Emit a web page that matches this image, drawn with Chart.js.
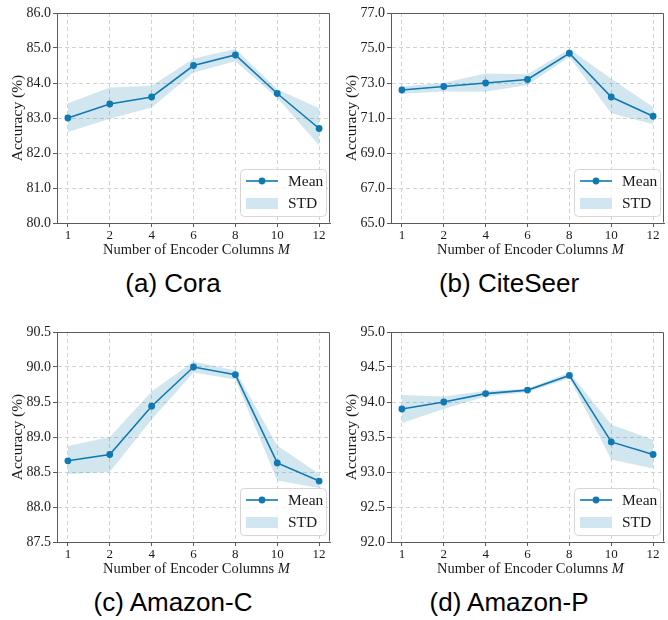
<!DOCTYPE html>
<html>
<head>
<meta charset="utf-8">
<script src="https://cdn.jsdelivr.net/npm/chart.js@4"></script>
<style>
  html, body { margin: 0; padding: 0; background: #fff; }
  #wrap { position: relative; width: 668px; height: 620px; overflow: hidden; }
  .panel { position: absolute; width: 334px; height: 260px; }
  .cap { position: absolute; font-family: "Liberation Sans", Arial, sans-serif; font-size: 26px; color: #000;
         transform: translate(-50%, -50%); white-space: nowrap; }
</style>
</head>
<body>
<div id="wrap">
  <div class="panel" style="left:0;top:0"><canvas id="c0"></canvas></div>
  <div class="panel" style="left:334px;top:0"><canvas id="c1"></canvas></div>
  <div class="panel" style="left:0;top:319px"><canvas id="c2"></canvas></div>
  <div class="panel" style="left:334px;top:319px"><canvas id="c3"></canvas></div>
  <div class="cap" style="left:173px;top:283px">(a) Cora</div>
  <div class="cap" style="left:509px;top:283px">(b) CiteSeer</div>
  <div class="cap" style="left:173px;top:602px">(c) Amazon-C</div>
  <div class="cap" style="left:509px;top:602px">(d) Amazon-P</div>
</div>
<script>
// ---- data ----
const categories = ['1', '2', '4', '6', '8', '10', '12'];

const coraMean  = [83.0, 83.4, 83.6, 84.5, 84.8, 83.7, 82.7];
const coraUpper = [83.42, 83.87, 83.92, 84.7, 84.97, 83.82, 83.28];
const coraLower = [82.6, 82.98, 83.3, 84.3, 84.62, 83.58, 82.22];
const coraTicks = [80, 86, 1];

const citeMean  = [72.6, 72.8, 73.0, 73.2, 74.7, 72.2, 71.1];
const citeUpper = [72.8, 73.02, 73.55, 73.5, 74.95, 73.25, 71.62];
const citeLower = [72.38, 72.52, 72.5, 72.88, 74.48, 71.27, 70.64];
const citeTicks = [65, 77, 2];

const amcMean  = [88.66, 88.75, 89.44, 90.0, 89.89, 88.63, 88.37];
const amcUpper = [88.87, 89.0, 89.65, 90.08, 89.95, 88.88, 88.47];
const amcLower = [88.47, 88.5, 89.25, 89.92, 89.82, 88.38, 88.27];
const amcTicks = [87.5, 90.5, 0.5];

const ampMean  = [93.9, 94.0, 94.12, 94.17, 94.38, 93.43, 93.25];
const ampUpper = [94.1, 94.08, 94.16, 94.19, 94.42, 93.68, 93.46];
const ampLower = [93.7, 93.9, 94.08, 94.14, 94.34, 93.18, 93.05];
const ampTicks = [92, 95, 0.5];

const yTitle = 'Accuracy (%)';
const xTitleMain = 'Number of Encoder Columns ';
const xTitleVar = 'M';
const legendLabels = ['Mean', 'STD'];

// ---- style ----
const LINE = '#1079b0';
const BAND = 'rgba(16,121,176,0.19)';
const BAND_SOLID = '#d2e6f1';
const GRID = '#d2d2d2';
const SPINE = '#5a5a5a';
const SERIF = '"Liberation Serif", "Times New Roman", "DejaVu Serif", serif';

const pts = arr => arr.map((v, i) => ({ x: i, y: v }));

const framePlugin = {
  id: 'frame',
  afterDatasetsDraw(chart) {
    const { ctx, chartArea: a } = chart;
    ctx.save();
    ctx.strokeStyle = SPINE;
    ctx.lineWidth = 1;
    ctx.beginPath();
    const l = Math.round(a.left) + 0.5, r = Math.round(a.right) - 0.5;
    const t = Math.round(a.top) + 0.5, b = Math.round(a.bottom) - 0.5;
    ctx.moveTo(l, t); ctx.lineTo(r, t); ctx.lineTo(r, b);
    ctx.stroke();
    ctx.restore();
  }
};

const xTitlePlugin = {
  id: 'xtitle',
  afterDraw(chart) {
    const { ctx, chartArea: a } = chart;
    ctx.save();
    ctx.fillStyle = '#1a1a1a';
    ctx.textBaseline = 'middle';
    ctx.textAlign = 'left';
    const f1 = '14.5px ' + SERIF, f2 = 'italic 14.5px ' + SERIF;
    ctx.font = f1; const w1 = ctx.measureText(xTitleMain).width;
    ctx.font = f2; const w2 = ctx.measureText(xTitleVar).width;
    const x0 = (a.left + a.right) / 2 - (w1 + w2) / 2 + 3;
    const y = a.bottom + 27;
    ctx.font = f1; ctx.fillText(xTitleMain, x0, y);
    ctx.font = f2; ctx.fillText(xTitleVar, x0 + w1, y);
    ctx.restore();
  }
};

const legendPlugin = {
  id: 'boxlegend',
  afterDraw(chart) {
    const { ctx, chartArea: a } = chart;
    const w = 86, h = 47;
    const x0 = a.right - 4 - w, y0 = a.bottom - 7 - h;
    ctx.save();
    ctx.beginPath();
    ctx.roundRect(x0 + 0.5, y0 + 0.5, w, h, 4);
    ctx.fillStyle = 'rgba(255,255,255,0.8)';
    ctx.fill();
    ctx.strokeStyle = '#d6d6d6';
    ctx.lineWidth = 1;
    ctx.stroke();
    // mean
    const ym = y0 + 12;
    ctx.strokeStyle = LINE; ctx.lineWidth = 1.6;
    ctx.beginPath(); ctx.moveTo(x0 + 6, ym); ctx.lineTo(x0 + 38, ym); ctx.stroke();
    ctx.fillStyle = LINE;
    ctx.beginPath(); ctx.arc(x0 + 22, ym, 3.4, 0, Math.PI * 2); ctx.fill();
    // std
    const ys = y0 + 34;
    ctx.fillStyle = BAND_SOLID;
    ctx.fillRect(x0 + 6, ys - 5, 32, 11);
    ctx.fillStyle = '#1a1a1a';
    ctx.font = '15.5px ' + SERIF;
    ctx.textBaseline = 'middle';
    ctx.fillText(legendLabels[0], x0 + 48, ym + 1);
    ctx.fillText(legendLabels[1], x0 + 48, ys + 1);
    ctx.restore();
  }
};

function makeChart(id, mean, upper, lower, ticks) {
  new Chart(document.getElementById(id), {
    type: 'line',
    data: {
      datasets: [
        { data: pts(upper), borderWidth: 0, pointRadius: 0, fill: false, borderColor: 'rgba(0,0,0,0)' },
        { data: pts(lower), borderWidth: 0, pointRadius: 0, fill: '-1', backgroundColor: BAND, borderColor: 'rgba(0,0,0,0)' },
        { data: pts(mean), borderColor: LINE, backgroundColor: LINE, borderWidth: 1.6,
          pointRadius: 3.4, pointBackgroundColor: LINE, pointBorderWidth: 0, fill: false }
      ]
    },
    options: {
      responsive: true,
      maintainAspectRatio: false,
      animation: false,
      events: [],
      layout: { padding: { top: 13, right: 1, left: 0, bottom: 0 } },
      plugins: { legend: { display: false }, tooltip: { enabled: false } },
      elements: { line: { tension: 0 } },
      scales: {
        x: {
          type: 'linear',
          min: -0.26, max: 6.26,
          afterBuildTicks: s => { s.ticks = categories.map((c, i) => ({ value: i })); },
          afterFit: s => { s.height = 37; },
          ticks: {
            callback: v => categories[v],
            font: { family: SERIF, size: 13 }, color: '#1a1a1a', padding: 1,
            maxRotation: 0, autoSkip: false
          },
          grid: { color: GRID, tickColor: SPINE, tickLength: 4, lineWidth: 1 },
          border: { color: SPINE, dash: [4, 3], width: 1 }
        },
        y: {
          min: ticks[0], max: ticks[1],
          afterFit: s => { s.width = 57; },
          ticks: {
            stepSize: ticks[2],
            callback: v => Number(v).toFixed(1),
            font: { family: SERIF, size: 14 }, color: '#1a1a1a', padding: 2, autoSkip: false
          },
          grid: { color: GRID, tickColor: SPINE, tickLength: 4, lineWidth: 1 },
          border: { color: SPINE, dash: [4, 3], width: 1 },
          title: { display: true, text: yTitle, font: { family: SERIF, size: 15.5 }, color: '#1a1a1a',
                   padding: { top: 9, bottom: 0 } }
        }
      }
    },
    plugins: [framePlugin, xTitlePlugin, legendPlugin]
  });
}

makeChart('c0', coraMean, coraUpper, coraLower, coraTicks);
makeChart('c1', citeMean, citeUpper, citeLower, citeTicks);
makeChart('c2', amcMean, amcUpper, amcLower, amcTicks);
makeChart('c3', ampMean, ampUpper, ampLower, ampTicks);
</script>
</body>
</html>
